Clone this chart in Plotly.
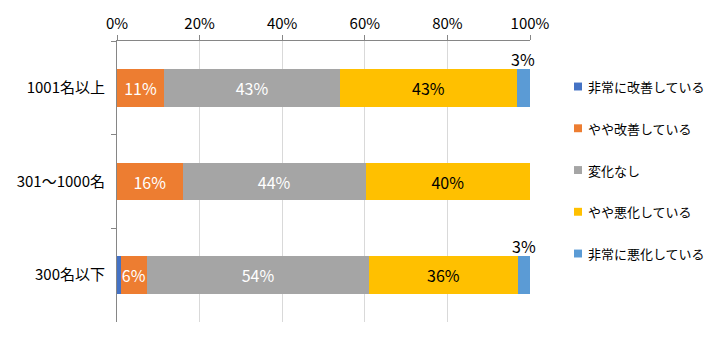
import plotly.graph_objects as go

# Company size groups (top to bottom)
categories = ["1001名以上", "301～1000名", "300名以下"]

# Share of responses per group (%)
series_names = ["非常に改善している", "やや改善している", "変化なし", "やや悪化している", "非常に悪化している"]
very_improved = [0.0, 0.0, 0.9]
slightly_improved = [11.4, 15.9, 6.3]
no_change = [42.6, 44.3, 53.9]
slightly_worse = [42.8, 39.8, 35.9]
very_worse = [3.2, 0.0, 3.0]

tick_vals = [0, 20, 40, 60, 80, 100]
tick_text = ["0%", "20%", "40%", "60%", "80%", "100%"]

colors = ["#4472C4", "#ED7D31", "#A5A5A5", "#FFC000", "#5B9BD5"]
label_colors = ["white", "white", "white", "black", "black"]
# Segments whose label sits inside the bar; the narrow end segment gets its label above
inside_label = [True, True, True, True, False]

series = [very_improved, slightly_improved, no_change, slightly_worse, very_worse]

FONT = "Noto Sans CJK JP, Meiryo, sans-serif"

W, H = 714, 337
ML, MR, MT, MB = 117, 184, 38, 15
PW, PH = W - ML - MR, H - MT - MB


def px_to_paper(px, py):
    """Convert page pixel coordinates to plot-area paper coordinates."""
    return (px - ML) / PW, 1 - (py - MT) / PH


fig = go.Figure()
for i, (name, vals) in enumerate(zip(series_names, series)):
    texts = [f"{round(v)}%" if (inside_label[i] and v >= 2) else "" for v in vals]
    fig.add_trace(go.Bar(
        y=categories, x=vals, name=name, orientation="h",
        marker=dict(color=colors[i], line=dict(width=0)),
        text=texts, textposition="inside", insidetextanchor="middle",
        textangle=0, constraintext="none",
        textfont=dict(family=FONT, size=16, color=label_colors[i]),
        hoverinfo="skip", showlegend=False,
    ))

annotations = []
shapes = []

# Labels above the narrow right-hand segments
for j, cat in enumerate(categories):
    start = sum(s[j] for s in series[:4])
    v = very_worse[j]
    if v >= 2:
        annotations.append(dict(
            x=start + v / 2, y=cat, xref="x", yref="y",
            text=f"{round(v)}%", showarrow=False,
            yanchor="bottom", yshift=15,
            font=dict(family=FONT, size=16, color="black"),
        ))

# Legend on the right: colour square + series name
legend_x, legend_y0, legend_step, sq = 578, 84, 42.2, 8
for i, name in enumerate(series_names):
    cy = legend_y0 + i * legend_step
    x0, y0 = px_to_paper(legend_x - sq / 2, cy - sq / 2)
    x1, y1 = px_to_paper(legend_x + sq / 2, cy + sq / 2)
    shapes.append(dict(type="rect", xref="paper", yref="paper",
                       x0=x0, x1=x1, y0=y1, y1=y0,
                       fillcolor=colors[i], line=dict(width=0)))
    tx, ty = px_to_paper(legend_x + 8, cy)
    annotations.append(dict(
        x=tx, y=ty, xref="paper", yref="paper", text=name,
        showarrow=False, xanchor="left", yanchor="middle",
        font=dict(family=FONT, size=13, color="black"),
    ))

fig.update_layout(
    barmode="stack",
    bargap=0.6,
    width=W, height=H,
    margin=dict(l=ML, r=MR, t=MT, b=MB),
    paper_bgcolor="white", plot_bgcolor="white",
    font=dict(family=FONT, size=15, color="black"),
    uniformtext=dict(minsize=15, mode="show"),
    annotations=annotations,
    shapes=shapes,
    showlegend=False,
)
fig.update_xaxes(
    side="top", range=[0, 100], tickvals=tick_vals, ticktext=tick_text,
    showgrid=True, gridcolor="#D9D9D9", gridwidth=1,
    showline=True, linecolor="#868686", linewidth=1,
    ticks="outside", ticklen=5, tickcolor="#868686",
    tickfont=dict(family=FONT, size=15, color="black"),
    zeroline=False, fixedrange=True,
)
fig.update_yaxes(
    autorange="reversed",
    showline=True, linecolor="#868686", linewidth=1,
    ticks="outside", ticklen=5, tickcolor="#868686", tickson="boundaries",
    tickfont=dict(family=FONT, size=15, color="black"),
    ticklabelstandoff=8, showgrid=False, fixedrange=True,
)

fig.write_html("out.html")
